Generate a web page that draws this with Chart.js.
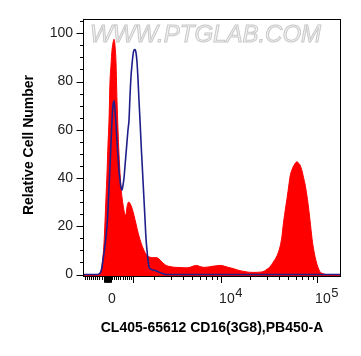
<!DOCTYPE html>
<html>
<head>
<meta charset="utf-8">
<script src="https://cdn.jsdelivr.net/npm/chart.js@4.4.1/dist/chart.umd.min.js"></script>
<style>
    body { margin: 0; background: #fff; }
    canvas { display: block; }
</style>
</head>
<body>
<canvas id="histo_chart" width="361" height="356"></canvas>
<script>
// display channels (0-256) of the biexponential x axis, and relative counts
var redChannels = [0, 14, 16, 18, 20, 21, 22, 23, 24, 25,
    26, 27, 28, 29, 30, 31, 32, 33, 34, 35,
    36, 37, 38, 39, 40, 41, 42, 43, 44, 45,
    46, 48, 50, 52, 54, 56, 58, 60, 62, 64,
    66, 68, 72, 74, 76, 79, 82, 86, 91, 96,
    101, 106, 110, 113, 116, 120, 124, 128, 132, 136,
    140, 144, 148, 152, 156, 160, 164, 168, 172, 176,
    179, 182, 186, 189, 193, 196, 198, 199, 201, 203,
    205, 206, 208, 210, 212, 213, 214, 216, 218, 219,
    221, 223, 224, 226, 228, 229, 231, 233, 235, 236,
    238, 240, 243, 256];
var redCounts = [0, 0, 0.5, 4, 13, 22, 32, 42, 54, 64,
    80, 87, 93, 96, 97.5, 95, 88, 72, 60, 50,
    42, 36, 32, 29, 26.5, 24.8, 25, 28, 29.8, 30,
    29.5, 27.5, 24.5, 21, 17.5, 14.5, 12, 10, 8.5, 7.5,
    7.2, 7, 7, 6.8, 6, 4.8, 3.8, 3.3, 3, 2.9,
    2.8, 3, 3.6, 3.8, 3.3, 3, 3.1, 3.4, 3.6, 3.8,
    3.5, 3, 2.6, 2.1, 1.6, 1.3, 1, 0.9, 0.9, 1,
    1.2, 1.9, 3.2, 5, 7.8, 11.5, 16, 19.8, 26, 31.5,
    37.5, 40.5, 43.5, 45.3, 46.5, 46.7, 46.4, 45.4, 43, 41.2,
    37.5, 32.5, 29.5, 22.5, 15, 12, 7.5, 4.2, 2, 1.1,
    0.5, 0.2, 0, 0];

var blueChannels = [0, 13, 16, 18, 19, 21, 23, 24, 26, 28,
    29, 30, 31, 32, 33, 34, 35, 36, 37, 38,
    39, 40, 41, 42, 43, 44, 45, 46, 47, 48,
    49, 50, 51, 52, 53, 54, 55, 56, 57, 58,
    59, 60, 61, 62, 63, 64, 65, 66, 68, 70,
    73, 76, 79, 82, 256];
var blueCounts = [0, 0, 0.5, 3, 6, 12, 20, 27, 45, 64,
    70, 72, 68, 62, 55, 49, 43, 39, 36, 35,
    37, 40, 45, 50, 55, 60, 64, 74, 82, 87,
    91, 93, 93.3, 92, 88, 81, 72, 64, 55, 47,
    39, 31, 23, 15, 10, 6, 3.2, 2.5, 2, 1.8,
    1.4, 0.8, 0.4, 0, 0];

var yMajorTicks = [0, 20, 40, 60, 80, 100];
var xLabelValues = [0, 10000, 100000];

var xTitle = "CL405-65612 CD16(3G8),PB450-A";
var yTitle = "Relative Cell Number";

// biexponential: linear near zero, log above
var ZERO_CH = 28;
var LIN_SLOPE = 0.021;
var LOG_K = 96 / Math.LN10;
var LIN_T = LOG_K / LIN_SLOPE;

function toChannel(v) {
    var a = Math.abs(v);
    var c = a <= LIN_T ? LIN_SLOPE * a : LOG_K + LOG_K * Math.log(a / LIN_T);
    return ZERO_CH + (v < 0 ? -c : c);
}

function toPoints(xs, ys) {
    var pts = [];
    for (var i = 0; i < xs.length; i++) {
        pts.push({x: xs[i], y: ys[i]});
    }
    return pts;
}

function xTickList() {
    var list = [];
    var v;
    for (v = -1300; v <= 900; v += 100) {
        list.push({v: v, len: 3.5});
    }
    for (v = -380; v <= -50; v += 15) {
        list.push({v: v, len: 6});
    }
    list.push({v: 1000, len: 6.5});
    for (var d = 1000; d <= 10000; d *= 10) {
        for (var m = 2; m <= 9; m++) {
            list.push({v: m * d, len: 3.5});
        }
    }
    list.push({v: 10000, len: 6.5});
    list.push({v: 100000, len: 6.5});
    return list;
}

var axesPlugin = {
    id: 'flowAxes',
    beforeDatasetsDraw: function (chart) {
        var c = chart.ctx;
        c.save();
        c.font = "italic 24px 'Liberation Sans', Arial, sans-serif";
        c.textBaseline = 'alphabetic';
        c.textAlign = 'left';
        c.lineWidth = 1;
        c.strokeStyle = '#c9c9c9';
        c.fillStyle = '#f3f3f3';
        c.fillText("WWW.PTGLAB.COM", 90, 42);
        c.strokeText("WWW.PTGLAB.COM", 90, 42);
        c.restore();
    },
    afterDraw: function (chart) {
        var c = chart.ctx;
        var area = chart.chartArea;
        var xs = chart.scales.x;
        var ys = chart.scales.y;
        c.save();
        c.strokeStyle = '#000';
        c.lineWidth = 1;
        c.strokeRect(area.left - 0.5, area.top - 0.5, area.right - area.left + 1, area.bottom - area.top + 1);

        // y ticks
        c.beginPath();
        for (var t = 0; t <= 105; t += 5) {
            var py = Math.round(ys.getPixelForValue(t)) + 0.5;
            var len = (t % 20 === 0) ? 7 : 3.5;
            c.moveTo(area.left - 0.5, py);
            c.lineTo(area.left - 0.5 - len, py);
        }
        // x ticks
        var ticks = xTickList();
        for (var i = 0; i < ticks.length; i++) {
            var px = Math.round(xs.getPixelForValue(toChannel(ticks[i].v))) + 0.5;
            c.moveTo(px, area.bottom + 0.5);
            c.lineTo(px, area.bottom + 0.5 + ticks[i].len);
        }
        c.stroke();

        c.fillStyle = '#222';
        c.font = "14px 'Liberation Sans', Arial, sans-serif";
        c.textAlign = 'right';
        c.textBaseline = 'middle';
        yMajorTicks.forEach(function (v) {
            c.fillText(String(v), area.left - 11, ys.getPixelForValue(v));
        });

        c.textBaseline = 'alphabetic';
        xLabelValues.forEach(function (v) {
            var px = xs.getPixelForValue(toChannel(v));
            if (v === 0) {
                c.textAlign = 'center';
                c.font = "14px 'Liberation Sans', Arial, sans-serif";
                c.fillText("0", px, 303);
            } else {
                c.textAlign = 'left';
                c.font = "14px 'Liberation Sans', Arial, sans-serif";
                var x0 = px - 2;
                c.fillText("10", x0, 303);
                var w = c.measureText("10").width;
                c.font = "13px 'Liberation Sans', Arial, sans-serif";
                c.fillText(String(Math.round(Math.log10(v))), x0 + w + 0.5, 297);
            }
        });

        c.fillStyle = '#000';
        c.font = "bold 14px 'Liberation Sans', Arial, sans-serif";
        c.textAlign = 'center';
        c.fillText(xTitle, 212, 332);

        c.translate(33, 145);
        c.rotate(-Math.PI / 2);
        c.fillText(yTitle, 0, 0);
        c.restore();
    }
};

var ctx = document.getElementById("histo_chart").getContext("2d");
var histo_chart = new Chart(ctx, {
    type: 'line',
    data: {
        datasets: [{
            label: 'Isotype',
            data: toPoints(blueChannels, blueCounts),
            borderColor: '#1f1f8c',
            borderWidth: 1.6,
            fill: false,
            cubicInterpolationMode: 'monotone',
            order: 0
        },
        {
            label: 'CD16',
            data: toPoints(redChannels, redCounts),
            borderColor: '#ff0000',
            backgroundColor: '#ff0000',
            borderWidth: 1,
            fill: 'start',
            cubicInterpolationMode: 'monotone',
            order: 1
        }]
    },
    options: {
        responsive: false,
        animation: false,
        devicePixelRatio: 1,
        layout: {
            padding: {left: 84, top: 20, right: 21, bottom: 80}
        },
        elements: {
            point: {radius: 0}
        },
        scales: {
            x: {type: 'linear', display: false, min: 0, max: 256},
            y: {type: 'linear', display: false, min: -0.6, max: 105.5}
        },
        plugins: {
            legend: {display: false},
            title: {display: false},
            tooltip: {enabled: false}
        }
    },
    plugins: [axesPlugin]
});
</script>
</body>
</html>
